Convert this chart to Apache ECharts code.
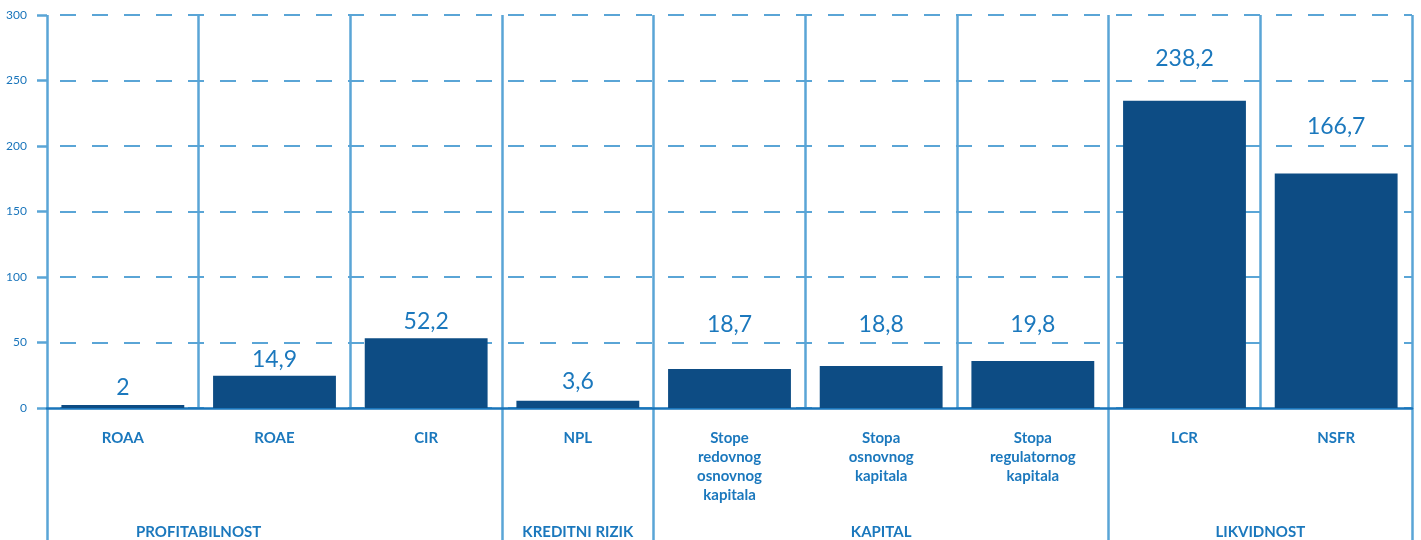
<!DOCTYPE html>
<html>
<head>
<meta charset="utf-8">
<script src="https://cdn.jsdelivr.net/npm/echarts@6/dist/echarts.min.js"></script>
<style>
  html, body { margin: 0; padding: 0; background: #ffffff; }
  #chart { width: 1421px; height: 540px; }
</style>
</head>
<body>
<div id="chart"></div>
<script>
// ---- data ----
const categories = ['ROAA', 'ROAE', 'CIR', 'NPL', 'Stope\nredovnog\nosnovnog\nkapitala', 'Stopa\nosnovnog\nkapitala', 'Stopa\nregulatornog\nkapitala', 'LCR', 'NSFR'];
const barValues = [2.3, 24.6, 53.3, 5.5, 29.7, 32, 35.8, 234.5, 179];
const valueLabels = ['2', '14,9', '52,2', '3,6', '18,7', '18,8', '19,8', '238,2', '166,7'];
const groupNames = ['PROFITABILNOST', 'KREDITNI RIZIK', 'KAPITAL', 'LIKVIDNOST'];
const groupStarts = [0, 3, 4, 7];
const groupEnds = [3, 4, 7, 9];
const groupLabelAt = [1, 3.5, 5.5, 8];
const yTicks = { min: 0, max: 300, interval: 50 };

// ---- style (kept apart from data) ----
const labelGap = [6, 5, 5, 8, 33, 30, 25, 31, 35];
const C_BAR = '#0d4c84';
const C_TEXT = '#1b78bd';
const C_GRID = '#5aa5d6';
const C_AXIS = '#1a75bb';
const FONT = 'Lato, "Open Sans", sans-serif';

const boundaryVals = groupStarts.concat([groupEnds[groupEnds.length - 1]]);

const chart = echarts.init(document.getElementById('chart'), null, { renderer: 'canvas' });
chart.setOption({
  animation: false,
  backgroundColor: '#ffffff',
  grid: { left: 47, right: 9, top: 15, bottom: 131, containLabel: false },
  xAxis: [
    {
      type: 'category',
      position: 'bottom',
      data: categories,
      boundaryGap: true,
      axisLine: { show: true, lineStyle: { color: C_AXIS, width: 2.5 } },
      axisTick: { show: false },
      splitLine: { show: true, lineStyle: { color: C_GRID, width: 2.5, type: 'solid' } },
      axisLabel: {
        interval: 0, margin: 21, color: C_TEXT, fontFamily: FONT, fontSize: 15,
        fontWeight: 'bold', lineHeight: 19, align: 'center'
      },
      z: 3
    },
    {
      type: 'value',
      position: 'bottom',
      min: 0, max: categories.length,
      axisLine: { show: false },
      splitLine: { show: false },
      axisTick: {
        show: true, inside: false, length: 135,
        customValues: boundaryVals,
        lineStyle: { color: C_GRID, width: 2.5 }
      },
      axisLabel: {
        show: true, margin: 117, color: C_TEXT, fontFamily: FONT, fontSize: 15, fontWeight: 'bold',
        customValues: groupLabelAt,
        formatter: function (v) {
          const i = groupLabelAt.indexOf(v);
          return i >= 0 ? groupNames[i] : '';
        }
      }
    }
  ],
  yAxis: {
    type: 'value',
    min: yTicks.min, max: yTicks.max, interval: yTicks.interval,
    axisLine: { show: false },
    axisTick: { show: true, length: 10, lineStyle: { color: C_GRID, width: 2.5 } },
    axisLabel: { margin: 20, color: C_AXIS, fontFamily: FONT, fontSize: 12 },
    splitLine: { show: true, lineStyle: { color: C_GRID, width: 2, type: [16, 16], dashOffset: 19 } }
  },
  series: [{
    type: 'bar',
    xAxisIndex: 0,
    barCategoryGap: '19%',
    itemStyle: { color: C_BAR },
    data: barValues.map((v, i) => ({ value: v, label: { distance: labelGap[i] } })),
    label: {
      show: true, position: 'top', color: C_TEXT, fontFamily: FONT, fontSize: 23, lineHeight: 23,
      formatter: function (p) { return valueLabels[p.dataIndex]; }
    },
    z: 4
  }]
});
</script>
</body>
</html>
